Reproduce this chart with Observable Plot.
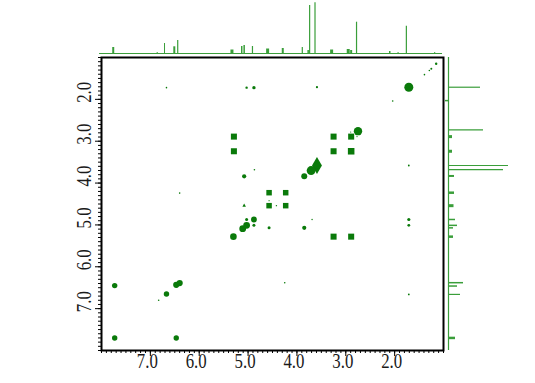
<!DOCTYPE html>
<html>
<head>
<meta charset="utf-8">
<script src="https://cdn.jsdelivr.net/npm/d3@7"></script>
<script src="https://cdn.jsdelivr.net/npm/@observablehq/plot@0.6"></script>
<style>
  html, body { margin: 0; padding: 0; background: white; }
  #wrap { position: relative; width: 535px; height: 383px; }
</style>
</head>
<body>
<div id="wrap"></div>
<script>
// ---- Data (ppm) ----
// 2D cross / diagonal peaks
const cpX = [6.67, 5.03, 4.88, 5.29, 5.29, 4.87, 5.08, 6.40, 4.57, 5.08, 4.57,
             1.15, 1.25, 1.29, 1.39, 1.71, 3.59, 2.04, 2.75, 2.90, 2.77,
             3.25, 2.89, 3.25, 2.89, 3.59, 3.71, 3.59, 3.85, 1.71,
             4.23, 4.23, 4.42, 4.57, 5.03, 4.88, 4.88, 5.11, 5.03, 4.57, 5.30,
             3.69, 3.85, 3.25, 2.89, 1.71, 1.71, 4.25, 1.71,
             7.73, 6.47, 6.40, 6.67, 6.83, 7.73, 6.47];
const cpY = [1.72, 1.72, 1.72, 2.89, 3.24, 3.68, 3.84, 4.24, 4.23, 4.54, 4.54,
             1.15, 1.27, 1.31, 1.41, 1.71, 1.71, 2.04, 2.76, 2.78, 2.89,
             2.89, 2.89, 3.24, 3.24, 3.58, 3.70, 3.68, 3.84, 3.58,
             4.23, 4.54, 4.54, 4.42, 4.87, 4.87, 5.01, 5.09, 5.01, 5.07, 5.28,
             4.87, 5.07, 5.28, 5.28, 4.87, 5.01, 6.38, 6.66,
             6.45, 6.43, 6.39, 6.65, 6.80, 7.70, 7.70];
const cpR = [0.8, 1.2, 1.7, 3.4, 3.4, 0.8, 2.1, 0.8, 3.1, 1.7, 3.1,
             1.2, 1.0, 0.8, 0.8, 4.5, 1.1, 0.8, 4.2, 0.6, 0.6,
             3.4, 3.4, 3.4, 3.7, 5.2, 4.4, 1.5, 3.0, 0.9,
             3.1, 3.1, 0.7, 0.6, 1.5, 2.9, 1.5, 3.4, 3.4, 1.5, 3.3,
             0.7, 2.1, 3.4, 3.4, 1.6, 1.4, 0.8, 0.9,
             2.7, 3.1, 3.1, 2.7, 0.8, 2.7, 2.7];
const cpShape = ["circle","circle","circle","square","square","circle","circle","circle","square","triangle2","square",
             "circle","circle","circle","circle","circle","circle","circle","circle","circle","circle",
             "square","square","square","square","diamond","circle","circle","circle","circle",
             "square","square","circle","circle","circle","circle","circle","circle","circle","circle","circle",
             "circle","circle","square","square","circle","circle","circle","circle",
             "circle","circle","circle","circle","circle","circle","circle"];

// top 1D projection (F2)
const topPpm = [7.76, 6.86, 6.71, 6.51, 6.44, 5.33, 5.13, 5.08, 4.91, 4.60, 4.29, 3.89, 3.77, 3.74, 3.63, 3.29, 2.95, 2.89, 2.78, 2.10, 1.93, 1.76, 1.18];
const topInt = [6, 1, 10, 6.7, 13, 3.5, 7, 8, 7, 4.5, 5, 6, 3, 48, 50.7, 3.5, 4, 3, 31.3, 2, 1, 27.3, 1];
const topW   = [2, 1, 1, 2, 1.2, 3, 1.5, 1.5, 1.2, 3, 2, 1.2, 1.5, 1.2, 1.2, 3, 3, 2, 1.2, 1.5, 1, 1.2, 1];

// right 1D projection (F1)
const rightPpm = [1.71, 2.03, 2.73, 2.89, 3.24, 3.58, 3.68, 3.83, 4.23, 4.54, 4.87, 5.01, 5.07, 5.28, 6.38, 6.46, 6.66, 6.80, 7.70];
const rightInt = [32, -3, 35, 4, 4, 60, 55, 6, 6, 5.5, 7, 9, 5, 5, 15, 9, 12, 1, 7];
const rightW   = [1.2, 1.5, 1.2, 3, 3, 1.2, 1.2, 2, 2.5, 3, 1.5, 1.5, 1.5, 2.5, 1.5, 1.5, 1.2, 1, 2.5];

// axis ticks
const xMajor = [7, 6, 5, 4, 3, 2];
const yMajor = [2, 3, 4, 5, 6, 7];
const minorTicks = d3.range(10, 81).map(d => d / 10);

const fmt = d3.format(".1f");
const dotColor = "#0a7a0a";
const specColor = "#3a9e3a";
const serif = "'Liberation Serif', 'DejaVu Serif', serif";

const peaks = cpX.map((x, i) => ({x, y: cpY[i], r: cpR[i], s: cpShape[i]}));
const topData = topPpm.map((p, i) => ({p, v: topInt[i], w: topW[i]}));
const rightData = rightPpm.map((p, i) => ({p, v: rightInt[i], w: rightW[i]}));

const W = 535, H = 383;
const xDom = [8, 1];
const yDom = [8, 1];
const xRange = [101, 443];
const yRange = [350, 57];

const mainPlot = Plot.plot({
  width: W, height: H,
  marginLeft: 101, marginRight: W - 443, marginTop: 57, marginBottom: H - 350,
  x: {domain: xDom, range: xRange},
  y: {domain: yDom, range: yRange},
  r: {type: "identity"},
  style: "background: white; position: absolute; left: 0; top: 0; overflow: visible;",
  marks: [
    Plot.dot(peaks, {x: "x", y: "y", r: "r", symbol: "s", fill: dotColor, stroke: "none"}),
    Plot.axisX({ticks: minorTicks, tickSize: 3, tickFormat: () => "", label: null}),
    Plot.axisX({ticks: xMajor, tickSize: 6, tickFormat: () => "", label: null}),
    Plot.axisY({ticks: minorTicks, tickSize: 3, tickFormat: () => "", label: null}),
    Plot.axisY({ticks: yMajor, tickSize: 6, tickFormat: () => "", label: null}),
    Plot.text(xMajor, {x: d => d, text: d => fmt(d), frameAnchor: "bottom", dy: 17, dx: -3,
      fontSize: 22, fontFamily: serif, fill: "#1a1a1a"}),
    Plot.text(yMajor, {y: d => d, text: d => fmt(d), frameAnchor: "left", dx: -18, dy: -7,
      rotate: -90, textAnchor: "middle", fontSize: 22, fontFamily: serif, fill: "#1a1a1a"}),
    Plot.frame({stroke: "black", strokeWidth: 2})
  ]
});
// condensed look of the original tick labels
d3.select(mainPlot).selectAll("text")
  .filter(function() { return this.textContent.length > 0; })
  .attr("textLength", 21).attr("lengthAdjust", "spacingAndGlyphs");

const topPlot = Plot.plot({
  width: W, height: H,
  x: {domain: xDom, range: xRange, axis: null},
  y: {domain: [0, 51], range: [53, 2], axis: null},
  style: "background: transparent; position: absolute; left: 0; top: 0; overflow: visible;",
  marks: [
    Plot.ruleY([0], {x1: 8.04, x2: 1.02, stroke: specColor, strokeWidth: 1.2}),
    Plot.ruleX(topData, {x: "p", y1: 0, y2: "v", stroke: specColor, strokeWidth: "w"})
  ]
});

const rightPlot = Plot.plot({
  width: W, height: H,
  x: {domain: [0, 60], range: [448, 508], axis: null},
  y: {domain: yDom, range: yRange, axis: null},
  style: "background: transparent; position: absolute; left: 0; top: 0; overflow: visible;",
  marks: [
    Plot.ruleX([0], {y1: 1.0, y2: 8.0, stroke: specColor, strokeWidth: 1.2}),
    Plot.ruleY(rightData, {y: "p", x1: 0, x2: "v", stroke: specColor, strokeWidth: "w"})
  ]
});

const wrap = document.getElementById("wrap");
wrap.appendChild(mainPlot);
wrap.appendChild(topPlot);
wrap.appendChild(rightPlot);
</script>
</body>
</html>
